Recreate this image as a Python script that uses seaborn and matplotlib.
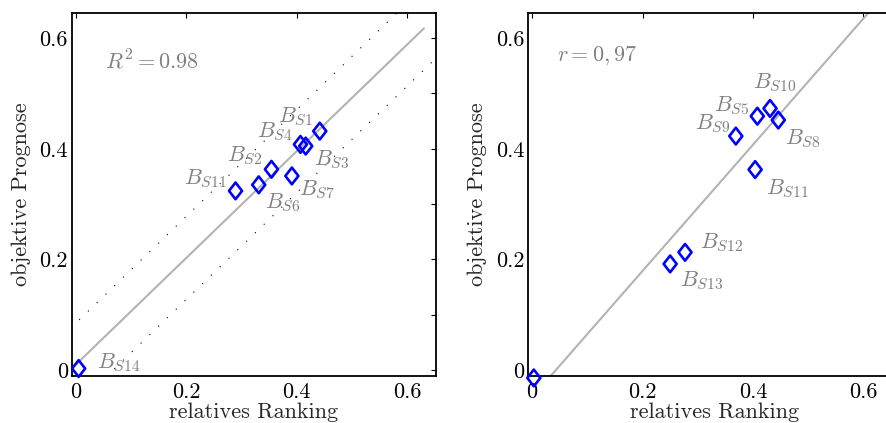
import matplotlib
matplotlib.use('Agg')
import matplotlib.pyplot as plt
import numpy as np
import pandas as pd
import seaborn as sns
from matplotlib.path import Path

# left panel
left_names = ['S14', 'S11', 'S6', 'S2', 'S7', 'S4', 'S3', 'S1']
left_rank = [0.005, 0.289, 0.331, 0.354, 0.391, 0.4065, 0.416, 0.4415]
left_prog = [0.003, 0.324, 0.335, 0.363, 0.351, 0.408, 0.405, 0.432]
left_stat = '$R^2 = 0.98$'
left_band = 0.075

# right panel
right_names = ['S14', 'S13', 'S12', 'S9', 'S5', 'S10', 'S8', 'S11']
right_rank = [0.003, 0.250, 0.277, 0.369, 0.408, 0.431, 0.446, 0.404]
right_prog = [-0.014, 0.192, 0.213, 0.423, 0.459, 0.473, 0.452, 0.3625]
right_stat = '$r = 0,97$'

xtick_vals = [0, 0.2, 0.4, 0.6]
xtick_labels = ['0', '0.2', '0.4', '0.6']
ytick_vals = [0, 0.1, 0.2, 0.3, 0.4, 0.5, 0.6]
ytick_labels = ['0', '', '0.2', '', '0.4', '', '0.6']

# label offsets in points (centre of text relative to point)
left_offsets = {'S14': (29, 4), 'S11': (-21.6, 8.9), 'S6': (17.3, -13), 'S2': (-19.2, 9.9),
                'S7': (18.2, -10.3), 'S4': (-18.5, 9.1), 'S3': (18.9, -10.3), 'S1': (-17.5, 10.3)}
right_offsets = {'S14': (16.3, 30.7), 'S13': (22.8, -12.5), 'S12': (26.4, 6.7), 'S9': (-16.8, 8.6),
                 'S5': (-18.2, 7.4), 'S10': (3.6, 18.2), 'S8': (17.3, -13.7), 'S11': (23, -13.7)}

GRAY_TXT = '#808080'
GRAY_LINE = '#b3b3b3'

sns.set_style('white')
plt.rcParams['font.family'] = 'serif'
plt.rcParams['font.serif'] = ['cmr10', 'DejaVu Serif']
plt.rcParams['mathtext.fontset'] = 'cm'
plt.rcParams['axes.unicode_minus'] = False
plt.rcParams['axes.formatter.use_mathtext'] = True

diamond = Path([(0, 1), (0.78, 0), (0, -1), (-0.78, 0), (0, 1)],
               [Path.MOVETO, Path.LINETO, Path.LINETO, Path.LINETO, Path.CLOSEPOLY])

fig = plt.figure(figsize=(8.87, 4.23), dpi=100)
ax1 = fig.add_axes([0.0812, 0.1118, 0.4104, 0.8582])
# right panel runs past the figure edge, as in the reference
ax2 = fig.add_axes([0.5956, 0.1118, 0.4200, 0.8582])


def panel(ax, names, rank, prog, offsets, stat, stat_pos, fit_end, xmax, band=None):
    df = pd.DataFrame({'rank': rank, 'prog': prog, 'name': names})
    slope, icpt = np.polyfit(df['rank'], df['prog'], 1)
    xs = np.array([0, fit_end])
    ax.plot(xs, icpt + slope * xs, color=GRAY_LINE, lw=1.5, zorder=1)
    if band is not None:
        xb = np.array([-0.01, 0.7])
        for s in (1, -1):
            ax.plot(xb, icpt + slope * xb + s * band, color='black', lw=0.8,
                    linestyle=(0, (1, 10)), zorder=1)
    sns.scatterplot(data=df, x='rank', y='prog', ax=ax, marker=diamond, s=145,
                    facecolor='none', edgecolor='blue', linewidth=1.9, zorder=3, clip_on=False)
    for _, r in df.iterrows():
        ax.annotate(f"$B_{{{r['name']}}}$", xy=(r['rank'], r['prog']),
                    xytext=offsets[r['name']], textcoords='offset points',
                    ha='center', va='center', color=GRAY_TXT, fontsize=16)
    ax.text(stat_pos[0], stat_pos[1], stat, transform=ax.transAxes, ha='center', va='center',
            color=GRAY_TXT, fontsize=16)
    ax.set_xlim(-0.007, xmax)
    ax.set_ylim(-0.010, 0.646)
    ax.set_xticks(xtick_vals)
    ax.set_xticklabels(xtick_labels)
    ax.set_yticks(ytick_vals)
    ax.set_yticklabels(ytick_labels)
    ax.tick_params(direction='in', length=3.5, width=0.8, labelsize=16, top=True, right=True,
                   colors='black')
    ax.tick_params(axis='x', pad=5)
    ax.tick_params(axis='y', pad=3)
    ax.set_xlabel('relatives Ranking', fontsize=16, labelpad=0)
    ax.set_ylabel('objektive Prognose', fontsize=16, labelpad=6)
    for sp in ax.spines.values():
        sp.set_color('black')
        sp.set_linewidth(1.3)


panel(ax1, left_names, left_rank, left_prog, left_offsets, left_stat, (0.219, 0.867), 0.63, 0.652,
      left_band)
panel(ax2, right_names, right_rank, right_prog, right_offsets, right_stat, (0.184, 0.882), 0.7, 0.668)

fig.savefig('out.png', dpi=100)
